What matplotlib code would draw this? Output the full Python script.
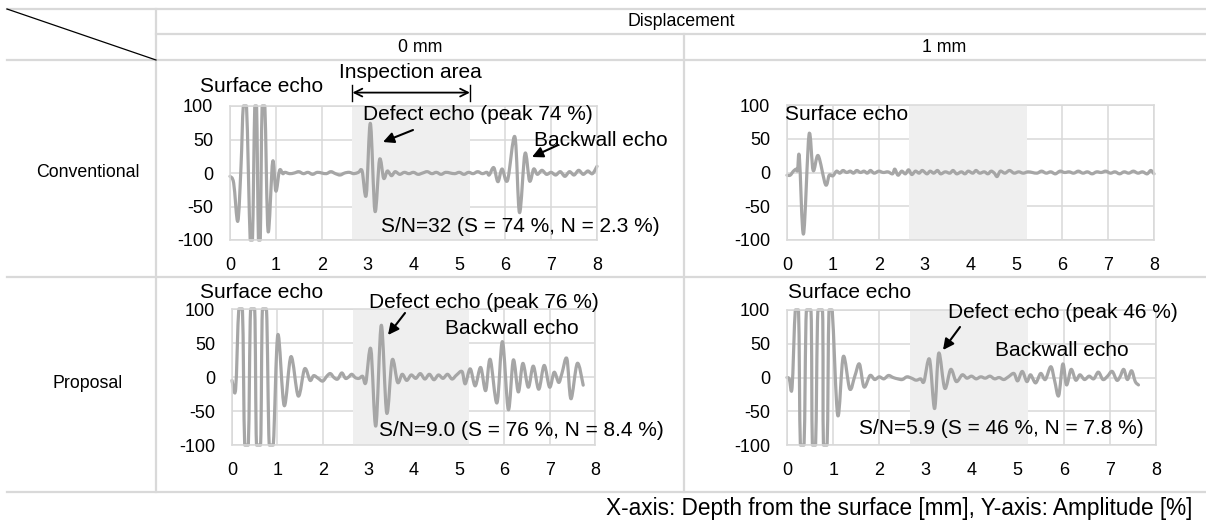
import matplotlib
matplotlib.use("Agg")
import matplotlib.pyplot as plt
from matplotlib.lines import Line2D
from matplotlib.path import Path
from matplotlib.patches import PathPatch

plt.rcParams['font.family'] = ['Liberation Sans', 'DejaVu Sans']
plt.rcParams['axes.unicode_minus'] = False

W, H = 1206, 521

# waveforms: (depth mm, amplitude %)
conv_0mm = [(0.00, -5), (0.08, -15), (0.17, -72), (0.24, 10), (0.29, 100), (0.36, 100),
            (0.44, -100), (0.49, -100), (0.54, 100), (0.58, 100), (0.62, -100), (0.66, -100),
            (0.70, 100), (0.76, 100), (0.83, -87), (0.93, 17), (1.00, -27), (1.08, 4),
            (1.15, -1), (1.20, 1), (1.30, -1), (1.40, 0), (1.50, 2), (1.60, -1), (1.70, 1),
            (1.80, -2), (1.90, 1), (2.00, 0), (2.10, -1), (2.20, 2), (2.30, -1), (2.40, -3),
            (2.50, 0), (2.60, 1), (2.70, -1), (2.80, 1), (2.88, 3), (2.97, -33), (3.06, 74),
            (3.16, -57), (3.26, 20), (3.35, -8), (3.43, 3), (3.52, -4), (3.60, 2), (3.70, -2),
            (3.80, 1), (3.90, -1), (4.00, 1), (4.10, -2), (4.20, 0), (4.30, 2), (4.40, -1),
            (4.50, 1), (4.60, -2), (4.70, 1), (4.80, 0), (4.90, -1), (5.00, 1), (5.10, -2),
            (5.20, 1), (5.30, -1), (5.40, 2), (5.50, -1), (5.60, 1), (5.65, -3), (5.75, 8),
            (5.84, -13), (5.93, 6), (6.05, -11), (6.21, 54), (6.31, -59), (6.43, 29),
            (6.53, -12), (6.62, 6), (6.70, -2), (6.80, 4), (6.90, -2), (7.00, 1), (7.10, -3),
            (7.20, 2), (7.30, -5), (7.40, 2), (7.50, -3), (7.60, 4), (7.70, -2), (7.80, 3),
            (7.90, -1), (8.00, 10)]

conv_1mm = [(0.00, -4), (0.07, -4), (0.14, 2), (0.20, 5), (0.23, 3), (0.27, 23), (0.36, -91),
            (0.48, 56), (0.57, 3), (0.68, 25), (0.84, -18), (0.92, -4), (1.00, -5), (1.08, 2),
            (1.15, -1), (1.22, 3), (1.30, 0), (1.38, 2), (1.45, -1), (1.52, 3), (1.60, 0),
            (1.68, 2), (1.75, -1), (1.82, 3), (1.90, -1), (2.00, 2), (2.10, 0), (2.20, 1),
            (2.30, -2), (2.35, 5), (2.42, -4), (2.50, 2), (2.58, -2), (2.65, 4), (2.72, -3),
            (2.80, 2), (2.88, -1), (2.95, 3), (3.05, -2), (3.12, 2), (3.20, -1), (3.28, 3),
            (3.35, -2), (3.45, 1), (3.55, -1), (3.62, 3), (3.70, -2), (3.80, 1), (3.88, -2),
            (3.95, 2), (4.05, -1), (4.12, 3), (4.20, -1), (4.30, 1), (4.38, -2), (4.45, 2),
            (4.52, -1), (4.58, -6), (4.65, 2), (4.75, -1), (4.85, 3), (4.95, -1), (5.05, 1),
            (5.15, -1), (5.25, 1), (5.35, 0), (5.45, -1), (5.55, 2), (5.65, -1), (5.75, 1),
            (5.85, -2), (5.95, 2), (6.05, 0), (6.15, 1), (6.25, -1), (6.35, 2), (6.45, -1),
            (6.55, 1), (6.65, -2), (6.75, 1), (6.85, 0), (6.95, 2), (7.05, -1), (7.15, 1),
            (7.25, -2), (7.35, 1), (7.45, -1), (7.55, 2), (7.65, -1), (7.75, 1), (7.85, -2),
            (7.93, 3), (8.00, -2)]

prop_0mm = [(0.00, -5), (0.08, -18), (0.15, 100), (0.23, 100), (0.28, -100), (0.36, -100),
            (0.41, 100), (0.50, 100), (0.54, -100), (0.63, -100), (0.67, 100), (0.76, 100),
            (0.82, -100), (0.91, -100), (1.01, 62), (1.15, -42), (1.30, 30), (1.46, -28),
            (1.60, 12), (1.72, -5), (1.80, 2), (1.90, -2), (2.00, -6), (2.10, 2), (2.17, 5),
            (2.25, -1), (2.33, -3), (2.42, 6), (2.50, -2), (2.57, 0), (2.64, 4), (2.72, -1),
            (2.80, -2), (2.88, 1), (2.95, -8), (3.06, 41), (3.17, -72), (3.29, 76), (3.41, -53),
            (3.53, 25), (3.65, -8), (3.75, 4), (3.85, -5), (3.95, 3), (4.05, -2), (4.15, 5),
            (4.25, -3), (4.35, 4), (4.45, -4), (4.55, 3), (4.65, -2), (4.75, 4), (4.85, -3),
            (4.95, 3), (5.07, 8), (5.14, -10), (5.25, 12), (5.36, -13), (5.48, 14), (5.59, -20),
            (5.69, 26), (5.84, -38), (5.96, 52), (6.09, -48), (6.20, 25), (6.31, -22),
            (6.41, 20), (6.53, -15), (6.64, 16), (6.76, -18), (6.88, 17), (7.00, -15),
            (7.10, 7), (7.20, -8), (7.27, 5), (7.38, 27), (7.47, -32), (7.61, 20), (7.74, -12)]

prop_1mm = [(0.00, 0), (0.05, -2), (0.11, -15), (0.18, 100), (0.25, 100), (0.29, -100),
            (0.37, -100), (0.42, 100), (0.52, 100), (0.55, -100), (0.62, -100), (0.67, 100),
            (0.77, 100), (0.79, -100), (0.87, -100), (0.91, 100), (0.98, 100), (1.10, -56),
            (1.22, 31), (1.36, -17), (1.47, 2), (1.57, 20), (1.67, -14), (1.80, 3), (1.90, -3),
            (2.00, 1), (2.10, -2), (2.20, 3), (2.30, 0), (2.40, -2), (2.50, -3), (2.60, 1),
            (2.70, -1), (2.80, -4), (2.90, -2), (2.97, -6), (3.09, 27), (3.20, -46), (3.29, 36),
            (3.42, -16), (3.55, 12), (3.67, -6), (3.80, 4), (3.90, -1), (4.00, 2), (4.10, -2),
            (4.20, 1), (4.30, -1), (4.40, 2), (4.50, -2), (4.60, 0), (4.70, -3), (4.80, 1),
            (4.92, 6), (5.00, -5), (5.10, 9), (5.20, -6), (5.28, 4), (5.39, -8), (5.50, 6),
            (5.60, -3), (5.72, 16), (5.80, -4), (5.89, -27), (5.98, 20), (6.06, -11),
            (6.16, 12), (6.26, -4), (6.35, 4), (6.45, -3), (6.55, 2), (6.65, -2), (6.75, 8),
            (6.85, -3), (6.95, 2), (7.05, 9), (7.15, -4), (7.22, 1), (7.30, 12), (7.38, -3),
            (7.47, 10), (7.55, -6), (7.62, -11)]

insp_lo, insp_hi = 2.67, 5.23
x_ticks = [0, 1, 2, 3, 4, 5, 6, 7, 8]
y_ticks = [-100, -50, 0, 50, 100]
y_min, y_max = -100, 100

rows = ["Conventional", "Proposal"]
cols = ["0 mm", "1 mm"]


def fx(px):
    return px / W


def fy(py):
    return 1 - py / H


def smooth_path(pts):
    # smoothed line like the spreadsheet original; control points kept inside
    # the saturation range so clipped echoes stay flat at +-100
    def clamp(v):
        return min(max(v, y_min), y_max)

    verts = [pts[0]]
    codes = [Path.MOVETO]
    n = len(pts)
    for i in range(n - 1):
        p0 = pts[max(i - 1, 0)]
        p1 = pts[i]
        p2 = pts[i + 1]
        p3 = pts[min(i + 2, n - 1)]
        c1 = (p1[0] + (p2[0] - p0[0]) / 6, clamp(p1[1] + (p2[1] - p0[1]) / 6))
        c2 = (p2[0] - (p3[0] - p1[0]) / 6, clamp(p2[1] - (p3[1] - p1[1]) / 6))
        verts += [c1, c2, p2]
        codes += [Path.CURVE4] * 3
    return Path(verts, codes)


fig = plt.figure(figsize=(W / 100, H / 100), dpi=100)

# table lines
grid_c = '#d9d9d9'
for (x0, y0, x1, y1) in [(7, 9, 1206, 9), (156, 34, 1206, 34), (7, 60, 1206, 60),
                         (7, 277, 1206, 277), (7, 492, 1206, 492),
                         (156, 9, 156, 492), (684, 34, 684, 492)]:
    fig.add_artist(Line2D([fx(x0), fx(x1)], [fy(y0), fy(y1)], color=grid_c, lw=1.6))
fig.add_artist(Line2D([fx(7), fx(156)], [fy(9), fy(60)], color='black', lw=0.9))

fig.text(fx(681), fy(21), "Displacement", ha='center', va='center', fontsize=12.8)
fig.text(fx(420), fy(47), cols[0], ha='center', va='center', fontsize=12.8)
fig.text(fx(944), fy(47), cols[1], ha='center', va='center', fontsize=12.8)
fig.text(fx(88), fy(172), rows[0], ha='center', va='center', fontsize=12.8)
fig.text(fx(88), fy(384), rows[1], ha='center', va='center', fontsize=12.8)
fig.text(fx(1192), fy(508), "X-axis: Depth from the surface [mm], Y-axis: Amplitude [%]",
         ha='right', va='center', fontsize=16.3)

# axes boxes in pixels: left, top, right, bottom
boxes = [(230, 106, 597, 240), (787, 105, 1154, 240),
         (232, 309, 595, 445), (787, 310, 1156, 445)]
waves = [conv_0mm, conv_1mm, prop_0mm, prop_1mm]
axes = []
for (l, t, r, b), wave in zip(boxes, waves):
    ax = fig.add_axes([fx(l), fy(b), (r - l) / W, (b - t) / H])
    ax.axvspan(insp_lo, insp_hi, color='#efefef', zorder=0.6, lw=0)
    ax.add_patch(PathPatch(smooth_path(wave), fill=False, edgecolor='#a6a6a6', lw=2.3,
                           zorder=2, capstyle='round', joinstyle='round', clip_on=False))
    ax.set_xlim(0, 8)
    ax.set_ylim(y_min, y_max)
    ax.set_xticks(x_ticks)
    ax.set_yticks(y_ticks)
    ax.set_axisbelow(True)
    ax.grid(True, color=grid_c, lw=1.1)
    for s in ax.spines.values():
        s.set_color(grid_c)
        s.set_linewidth(1.1)
    ax.tick_params(length=0, labelsize=13, pad=12)
    ax.patch.set_alpha(0)
    axes.append(ax)

an = dict(ha='center', va='center', fontsize=15)
arr = dict(arrowstyle='-|>', color='black', lw=1.5, mutation_scale=16, shrinkA=0, shrinkB=0)

# conventional, 0 mm
fig.text(fx(262), fy(87), "Surface echo", **an)
fig.text(fx(410), fy(73), "Inspection area", **an)
trans = axes[0].get_xaxis_transform()
axes[0].annotate("", xy=(insp_lo, 1.1), xytext=(insp_hi, 1.1), xycoords=trans,
                 textcoords=trans, annotation_clip=False,
                 arrowprops=dict(arrowstyle='<->', color='black', lw=1.3,
                                 mutation_scale=14, shrinkA=0, shrinkB=0))
for xv in (insp_lo, insp_hi):
    axes[0].plot([xv, xv], [1.04, 1.16], transform=trans, color='black', lw=1.0,
                 clip_on=False)
fig.text(fx(478), fy(115), "Defect echo (peak 74 %)", **an)
fig.add_artist(plt.Annotation("", xy=(fx(383), fy(142)), xytext=(fx(413), fy(130)),
                              xycoords='figure fraction', arrowprops=arr))
fig.text(fx(601), fy(140), "Backwall echo", **an)
fig.add_artist(plt.Annotation("", xy=(fx(532), fy(157)), xytext=(fx(558), fy(145)),
                              xycoords='figure fraction', arrowprops=arr))
fig.text(fx(520), fy(227), "S/N=32 (S = 74 %, N = 2.3 %)", **an)

# conventional, 1 mm
fig.text(fx(847), fy(115), "Surface echo", **an)

# proposal, 0 mm
fig.text(fx(262), fy(292), "Surface echo", **an)
fig.text(fx(484), fy(303), "Defect echo (peak 76 %)", **an)
fig.add_artist(plt.Annotation("", xy=(fx(388), fy(335)), xytext=(fx(405), fy(313)),
                              xycoords='figure fraction', arrowprops=arr))
fig.text(fx(512), fy(328), "Backwall echo", **an)
fig.text(fx(521), fy(430), "S/N=9.0 (S = 76 %, N = 8.4 %)", **an)

# proposal, 1 mm
fig.text(fx(850), fy(292), "Surface echo", **an)
fig.text(fx(1063), fy(312), "Defect echo (peak 46 %)", **an)
fig.add_artist(plt.Annotation("", xy=(fx(943), fy(350)), xytext=(fx(960), fy(327)),
                              xycoords='figure fraction', arrowprops=arr))
fig.text(fx(1062), fy(350), "Backwall echo", **an)
fig.text(fx(1001), fy(428), "S/N=5.9 (S = 46 %, N = 7.8 %)", **an)

fig.savefig("out.png", dpi=100)
